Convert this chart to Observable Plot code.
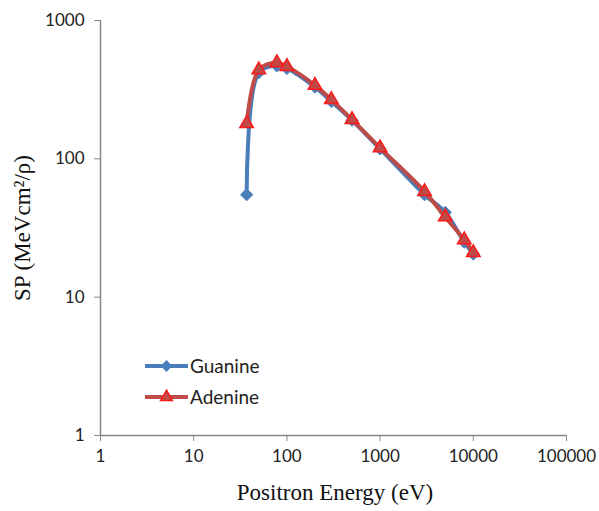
<!DOCTYPE html>
<html>
<head>
<meta charset="utf-8">
<script src="https://cdn.jsdelivr.net/npm/d3@7"></script>
<script src="https://cdn.jsdelivr.net/npm/@observablehq/plot@0.6"></script>
<style>
  html, body { margin: 0; padding: 0; background: #fff; }
  #chart { position: relative; width: 599px; height: 511px; }
</style>
</head>
<body>
<div id="chart"></div>
<script>
const energy = [37, 50, 78, 100, 200, 300, 500, 1000, 3000, 5000, 8000, 10000];
const guanine = [55, 420, 470, 450, 330, 260, 190, 118, 55, 41, 25, 20.5];
const adenine = [180, 440, 495, 465, 340, 268, 192, 120, 58, 38, 26, 21];
const xTicks = [1, 10, 100, 1000, 10000, 100000];
const yTicks = [1, 10, 100, 1000];
const seriesNames = ["Guanine", "Adenine"];
const xTitle = "Positron Energy (eV)";
const yTitle = "SP (MeVcm²/ρ)";

const gData = energy.map((e, i) => ({x: e, y: guanine[i]}));
const aData = energy.map((e, i) => ({x: e, y: adenine[i]}));

const blue = "#4A7EBB", red = "#BE4B48", bright = "#FF1A1A";
const axisColor = "#868686";
const tickFont = "Lato, 'Open Sans', sans-serif";

const plot = Plot.plot({
  width: 599,
  height: 511,
  marginLeft: 100,
  marginRight: 33,
  marginTop: 20,
  marginBottom: 76,
  style: {fontFamily: tickFont, fontSize: "17px", color: "#222", background: "#fff", overflow: "visible"},
  x: {type: "log", domain: [1, 100000]},
  y: {type: "log", domain: [1, 1000]},
  marks: [
    Plot.axisX({ticks: xTicks, tickFormat: d => String(d), tickSize: 6, tickPadding: 8, stroke: axisColor, label: null, fontSize: 17}),
    Plot.axisY({ticks: yTicks, tickFormat: d => String(d), tickSize: 6, tickPadding: 10, stroke: axisColor, label: null, fontSize: 17}),
    Plot.ruleX([1], {stroke: axisColor, strokeWidth: 1.5}),
    Plot.ruleY([1], {stroke: axisColor, strokeWidth: 1.5}),
    Plot.line(gData, {x: "x", y: "y", stroke: blue, strokeWidth: 4, curve: "catmull-rom"}),
    Plot.dot(gData, {x: "x", y: "y", symbol: "diamond2", r: 5.5, fill: blue, stroke: blue, strokeWidth: 1}),
    Plot.line(aData, {x: "x", y: "y", stroke: red, strokeWidth: 4, curve: "catmull-rom"}),
    Plot.dot(aData, {x: "x", y: "y", symbol: "triangle", r: 5, fill: red, stroke: bright, strokeWidth: 1.5})
  ]
});
document.getElementById("chart").appendChild(plot);

const svg = d3.select(plot);
// axis titles
svg.append("text")
  .attr("x", 335).attr("y", 500)
  .attr("text-anchor", "middle")
  .style("font-family", "'Liberation Serif', 'Times New Roman', serif")
  .style("font-size", "23px").style("fill", "#111")
  .text(xTitle);
svg.append("text")
  .attr("transform", "translate(30,228) rotate(-90)")
  .attr("text-anchor", "middle")
  .style("font-family", "'Liberation Serif', 'Times New Roman', serif")
  .style("font-size", "23px").style("fill", "#111")
  .text(yTitle);

// legend
const leg = svg.append("g");
const items = [
  {name: seriesNames[0], color: blue, sym: d3.symbolDiamond2, fill: blue, stroke: blue, y: 366},
  {name: seriesNames[1], color: red, sym: d3.symbolTriangle, fill: red, stroke: bright, y: 397}
];
items.forEach(it => {
  leg.append("line").attr("x1", 145).attr("x2", 188).attr("y1", it.y).attr("y2", it.y)
    .attr("stroke", it.color).attr("stroke-width", 4);
  leg.append("path").attr("d", d3.symbol(it.sym, 60)())
    .attr("transform", `translate(166.5,${it.y})`)
    .attr("fill", it.fill).attr("stroke", it.stroke).attr("stroke-width", 1.5);
  leg.append("text").attr("x", 190).attr("y", it.y).attr("dy", "0.35em")
    .attr("text-anchor", "start")
    .style("font-family", tickFont).style("font-size", "19px").style("fill", "#222")
    .text(it.name);
});
</script>
</body>
</html>
